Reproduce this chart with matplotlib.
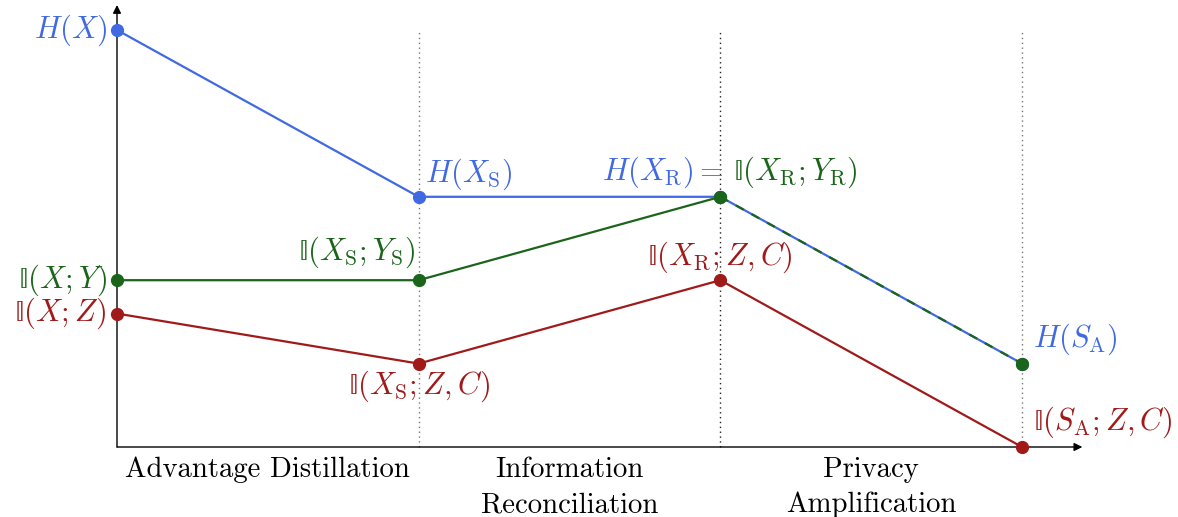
import matplotlib
matplotlib.use("Agg")
import matplotlib.pyplot as plt

plt.rcParams['mathtext.fontset'] = 'cm'
plt.rcParams['font.family'] = 'cmr10'
plt.rcParams['axes.formatter.use_mathtext'] = True

stages = [0, 1, 2, 3]
H_vals = [5, 3, 3, 1]
I_XY_vals = [2, 2, 3, 1]
I_XZ_vals = [1.6, 1, 2, 0]
categories = ['Advantage Distillation', 'Information\nReconciliation', 'Privacy\nAmplification']

BLUE = '#4169E1'
GREEN = '#1B651B'
RED = '#A01A1A'

# upright double-struck I
BB = r'\mathrm{\mathbb{I}}'

W, H = 1178, 517
fig = plt.figure(figsize=(W / 100, H / 100), dpi=100)
ax = fig.add_axes([0, 0, 1, 1])
ax.axis('off')
px = 301.67
py = 83.4
ax.set_xlim(-117 / px, (W - 117) / px)
ax.set_ylim(-(H - 447) / py, 447 / py)

# dotted stage separators
for xs, c in zip(stages[1:], ['#777777', '#222222', '#777777']):
    ax.plot([xs, xs], [0, 4.98], color=c, lw=1.0, ls=(0, (1, 2.5)), zorder=1)

# axes arrows
ax.annotate('', xy=(3.2, 0), xytext=(0, 0),
            arrowprops=dict(arrowstyle='-|>', color='black', lw=1.0, mutation_scale=12, shrinkA=0, shrinkB=0))
ax.annotate('', xy=(0, 5.3), xytext=(0, 0),
            arrowprops=dict(arrowstyle='-|>', color='black', lw=1.0, mutation_scale=12, shrinkA=0, shrinkB=0))

lw = 1.6
ms = 8.5
ax.plot(stages, I_XZ_vals, color=RED, lw=lw, marker='o', ms=ms, zorder=3)
ax.plot(stages[:3], I_XY_vals[:3], color=GREEN, lw=lw, marker='o', ms=ms, zorder=3)
ax.plot(stages, H_vals, color=BLUE, lw=lw, marker='o', ms=ms, zorder=4)
ax.plot(stages[2:], I_XY_vals[2:], color=GREEN, lw=lw, ls=(0, (4, 4)), marker='o', ms=ms, zorder=5)

fs = 22
def lab(x, y, s, c, ha, va, dx=0, dy=0):
    ax.text(x + dx / px, y + dy / py, s, color=c, ha=ha, va=va, fontsize=fs)

lab(0, H_vals[0], r'$H(X)$', BLUE, 'right', 'center', dx=-10)
lab(0, I_XY_vals[0], r'$' + BB + r'(X;Y)$', GREEN, 'right', 'center', dx=-10)
lab(0, I_XZ_vals[0], r'$' + BB + r'(X;Z)$', RED, 'right', 'center', dx=-10)
lab(1, H_vals[1], r'$H(X_{\mathrm{S}})$', BLUE, 'left', 'center', dx=6, dy=23)
lab(1, I_XY_vals[1], r'$' + BB + r'(X_{\mathrm{S}};Y_{\mathrm{S}})$', GREEN, 'right', 'center', dx=-4, dy=28)
lab(1, I_XZ_vals[1], r'$' + BB + r'(X_{\mathrm{S}};Z,C)$', RED, 'center', 'center', dy=-23)
lab(2, H_vals[2], r'$H(X_{\mathrm{R}})=$', BLUE, 'right', 'center', dx=3, dy=25)
lab(2, I_XY_vals[2], r'$' + BB + r'(X_{\mathrm{R}};Y_{\mathrm{R}})$', GREEN, 'left', 'center', dx=13, dy=25)
lab(2, I_XZ_vals[2], r'$' + BB + r'(X_{\mathrm{R}};Z,C)$', RED, 'center', 'center', dy=23)
lab(3, H_vals[3], r'$H(S_{\mathrm{A}})$', BLUE, 'left', 'center', dx=11, dy=24)
lab(3, I_XZ_vals[3], r'$' + BB + r'(S_{\mathrm{A}};Z,C)$', RED, 'left', 'center', dx=11, dy=25)

for i, cat in enumerate(categories):
    for j, line in enumerate(cat.split('\n')):
        ax.text(i + 0.5, -(20 + 35 * j) / py, line, ha='center', va='center_baseline', fontsize=20.7)

fig.savefig('out.png', dpi=100)
